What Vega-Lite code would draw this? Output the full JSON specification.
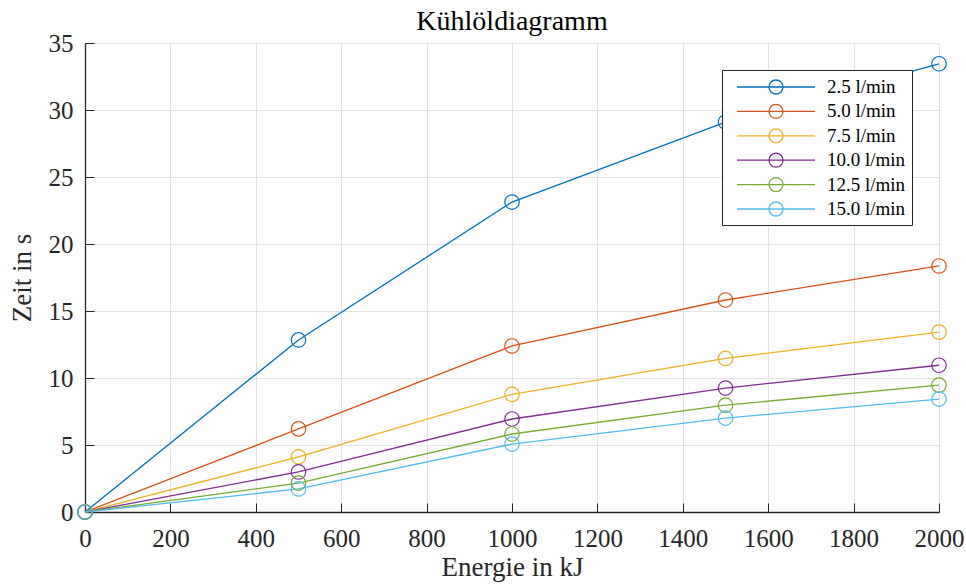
{
  "$schema": "https://vega.github.io/schema/vega-lite/v6.json",
  "width": 854,
  "height": 469,
  "autosize": {"type": "none"},
  "padding": {"left": 85, "top": 43, "right": 27, "bottom": 73},
  "background": "white",
  "title": {"text": "Kühlöldiagramm", "font": "Liberation Serif", "fontSize": 28, "fontWeight": "normal", "color": "#000000", "offset": -5, "anchor": "middle", "frame": "group"},
  "data": {"values": [
    {"E": 0, "t": 0, "rate": "2.5 l/min"},
    {"E": 500, "t": 12.84, "rate": "2.5 l/min"},
    {"E": 1000, "t": 23.13, "rate": "2.5 l/min"},
    {"E": 1500, "t": 29.1, "rate": "2.5 l/min"},
    {"E": 2000, "t": 33.45, "rate": "2.5 l/min"},
    {"E": 0, "t": 0, "rate": "5.0 l/min"},
    {"E": 500, "t": 6.2, "rate": "5.0 l/min"},
    {"E": 1000, "t": 12.39, "rate": "5.0 l/min"},
    {"E": 1500, "t": 15.82, "rate": "5.0 l/min"},
    {"E": 2000, "t": 18.36, "rate": "5.0 l/min"},
    {"E": 0, "t": 0, "rate": "7.5 l/min"},
    {"E": 500, "t": 4.12, "rate": "7.5 l/min"},
    {"E": 1000, "t": 8.78, "rate": "7.5 l/min"},
    {"E": 1500, "t": 11.46, "rate": "7.5 l/min"},
    {"E": 2000, "t": 13.42, "rate": "7.5 l/min"},
    {"E": 0, "t": 0, "rate": "10.0 l/min"},
    {"E": 500, "t": 2.99, "rate": "10.0 l/min"},
    {"E": 1000, "t": 6.94, "rate": "10.0 l/min"},
    {"E": 1500, "t": 9.25, "rate": "10.0 l/min"},
    {"E": 2000, "t": 10.95, "rate": "10.0 l/min"},
    {"E": 0, "t": 0, "rate": "12.5 l/min"},
    {"E": 500, "t": 2.16, "rate": "12.5 l/min"},
    {"E": 1000, "t": 5.82, "rate": "12.5 l/min"},
    {"E": 1500, "t": 7.97, "rate": "12.5 l/min"},
    {"E": 2000, "t": 9.47, "rate": "12.5 l/min"},
    {"E": 0, "t": 0, "rate": "15.0 l/min"},
    {"E": 500, "t": 1.72, "rate": "15.0 l/min"},
    {"E": 1000, "t": 5.07, "rate": "15.0 l/min"},
    {"E": 1500, "t": 7.01, "rate": "15.0 l/min"},
    {"E": 2000, "t": 8.43, "rate": "15.0 l/min"}
  ]},
  "mark": {"type": "line", "strokeWidth": 1.3, "clip": false, "point": {"filled": false, "size": 210, "strokeWidth": 1.2, "fill": "transparent"}},
  "encoding": {
    "x": {"field": "E", "type": "quantitative", "title": "Energie in kJ",
      "scale": {"domain": [0, 2000], "nice": false, "zero": false},
      "axis": {"values": [0,200,400,600,800,1000,1200,1400,1600,1800,2000], "format": "d", "labelFlush": false, "labelOverlap": false, "labelPadding": 23, "titlePadding": 3,
        "titleFont": "Liberation Serif", "titleFontSize": 27, "titleFontWeight": "normal", "titleColor": "#262626"}},
    "y": {"field": "t", "type": "quantitative", "title": "Zeit in s",
      "scale": {"domain": [0, 35], "nice": false},
      "axis": {"values": [0,5,10,15,20,25,30,35], "format": "d", "labelFlush": false, "labelPadding": 21, "titlePadding": 12,
        "titleFont": "Liberation Serif", "titleFontSize": 27, "titleFontWeight": "normal", "titleColor": "#262626"}},
    "color": {"field": "rate", "type": "nominal", "sort": null,
      "scale": {"domain": ["2.5 l/min","5.0 l/min","7.5 l/min","10.0 l/min","12.5 l/min","15.0 l/min"],
                "range": ["#0072BD","#D95319","#EDB120","#7E2F8E","#77AC30","#4DBEEE"]},
      "legend": {"title": null, "orient": "none", "legendX": 637, "legendY": 27,
        "symbolType": "M-3.9,0H3.9M0.7,0A0.7,0.7 0 1,1 -0.7,0A0.7,0.7 0 1,1 0.7,0",
        "symbolSize": 400, "symbolStrokeWidth": 1.3, "symbolFillColor": "transparent",
        "symbolOffset": 37, "labelOffset": 40, "padding": 6, "rowPadding": 3.4,
        "labelFont": "Liberation Serif", "labelFontSize": 19, "labelColor": "#000000",
        "strokeColor": "#262626", "fillColor": "white", "cornerRadius": 0}}
  },
  "config": {
    "font": "Liberation Serif",
    "view": {"stroke": null},
    "axis": {
      "labelFont": "Liberation Serif", "labelFontSize": 25, "labelColor": "#262626",
      "titleFont": "Liberation Serif", "titleFontSize": 27, "titleFontWeight": "normal", "titleColor": "#262626",
      "domainColor": "#262626", "domainWidth": 1.3,
      "tickColor": "#262626", "tickSize": -9, "tickWidth": 1,
      "gridColor": "#e3e3e3", "gridWidth": 1, "grid": true
    }
  }
}
